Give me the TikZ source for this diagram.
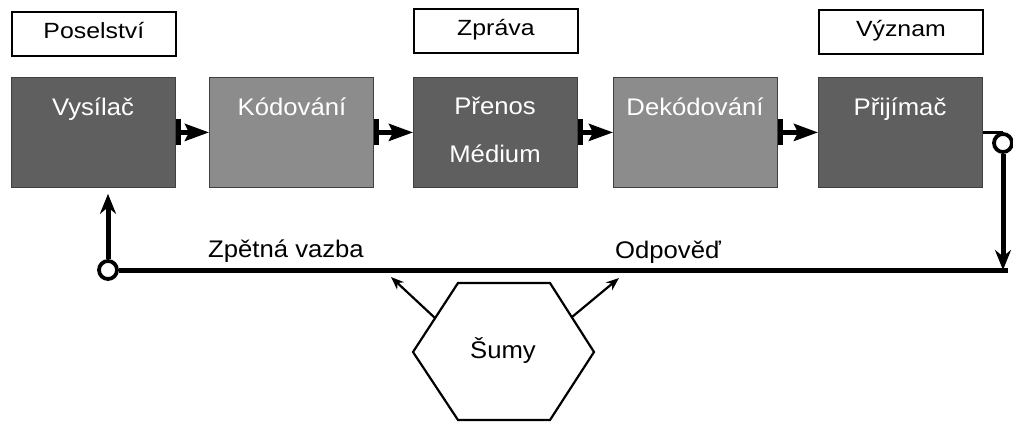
\documentclass[tikz,border=0pt]{standalone}
\usepackage{fontspec}
\setmainfont[FakeStretch=1.07]{Liberation Sans}
\newfontfamily\tagfont[FakeStretch=1.13]{Liberation Sans}
\usetikzlibrary{arrows.meta}
\definecolor{darkbox}{RGB}{95,95,95}
\definecolor{lightbox}{RGB}{140,140,140}
\begin{document}
\begin{tikzpicture}[x=1pt,y=-1pt,
  font=\fontsize{24}{28}\selectfont,
  block/.style={draw=black!75, line width=0.8pt, minimum width=164pt, minimum height=110pt, inner sep=0pt, anchor=north west},
  dark/.style={block, fill=darkbox},
  light/.style={block, fill=lightbox},
  blabel/.style={anchor=base, text=white, inner sep=0pt},
  tag/.style={draw, line width=1.8pt, minimum width=164pt, minimum height=44pt, inner sep=0pt, text height=13pt, text depth=4pt, anchor=north west, font=\tagfont\fontsize{22}{26}\selectfont},
  flow/.style={line width=4.5pt, {Bar[width=26pt,line width=5.5pt]}-{Stealth[length=24pt,width=17pt,inset=4pt]}},
  loopline/.style={line width=5pt},
  ring/.style={circle, draw, line width=3.8pt, fill=white, minimum size=18pt, inner sep=0pt},
  noise/.style={line width=2.2pt, -{Stealth[length=13pt,width=10pt]}},
  plain/.style={anchor=base, inner sep=0pt}
]
\useasboundingbox (0,0) rectangle (1013,421);

% top tags
\node[tag] (pos) at (11,11) {Poselství};
\node[tag] (zpr) at (413,8) {Zpráva};
\node[tag] (vyz) at (818,9) {Význam};

% main blocks
\node[dark]  (vys) at (11,77) {};
\node[light] (kod) at (209,77) {};
\node[dark]  (pre) at (413,77) {};
\node[light] (dek) at (613,77) {};
\node[dark]  (pri) at (818,77) {};

\node[blabel] (vysl) at (93,115) {Vysílač};
\node[blabel] (kodl) at (292,115) {Kódování};
\node[blabel] (prel) at (495,114) {Přenos};
\node[blabel] (medl) at (495,162) {Médium};
\node[blabel] (dekl) at (695,115) {Dekódování};
\node[blabel] (pril) at (900,115) {Přijímač};

% flow connectors
\draw[flow] (vys.east) -- (kod.west);
\draw[flow] (kod.east) -- (pre.west);
\draw[flow] (pre.east) -- (dek.west);
\draw[flow] (dek.east) -- (pri.west);

% feedback loop
\node[ring] (r1) at (1003,143) {};
\node[ring] (r2) at (108,270) {};
\coordinate (corner) at (1008,270);
\draw[loopline, line width=3.5pt] (pri.east) -- (pri.east -| r1.north);
\draw[loopline, -{Stealth[length=20pt,width=16pt]}] (r1.south) -- (r1.south |- corner);
\draw[loopline] (corner) -- (r2.east);
\draw[loopline, -{Stealth[length=20pt,width=16pt]}, shorten >=6pt] (r2.north) -- (vys.south -| r2.north);

\node[plain] (zv) at (286,257) {Zpětná vazba};
\node[plain] (odp) at (668,258) {Odpověď};

% noise hexagon
\draw[line width=2.2pt] (413,352) -- (458,283) -- (550,283) -- (594,352) -- (550,420) -- (458,420) -- cycle;
\node[plain] (sum) at (503,358) {Šumy};
\coordinate (hl) at (435,318);
\coordinate (hr) at (572,317);
\coordinate (tl) at (391,277);
\coordinate (tr) at (619,278);
\draw[noise] (hl) -- (tl);
\draw[noise] (hr) -- (tr);
\end{tikzpicture}
\end{document}
